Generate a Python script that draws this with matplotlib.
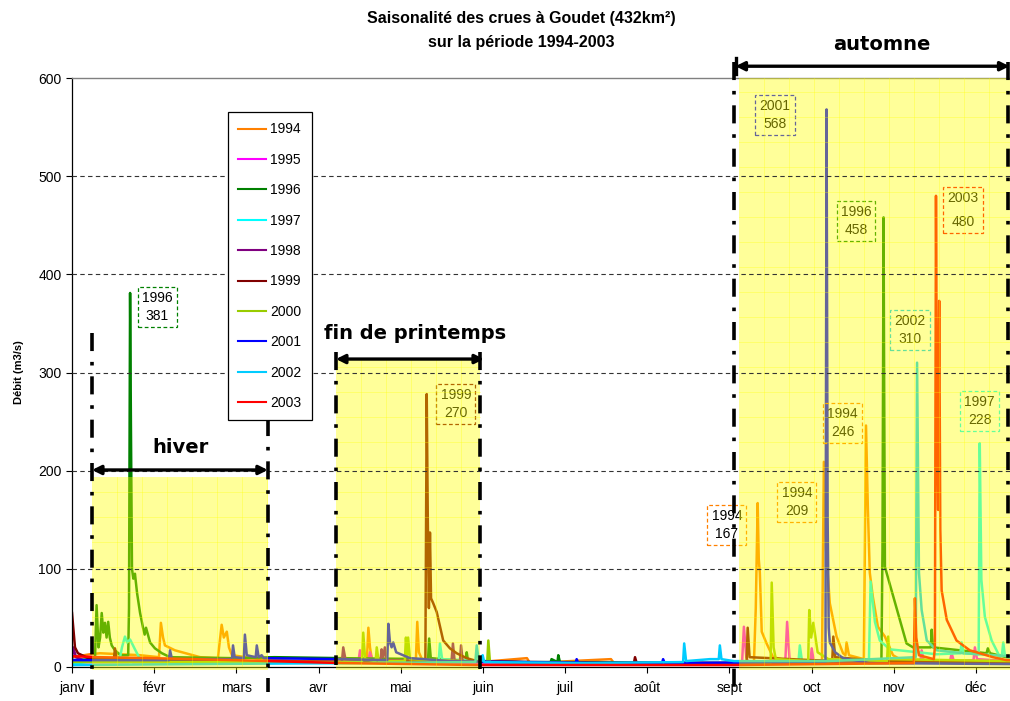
import matplotlib
matplotlib.use("Agg")
import matplotlib.pyplot as plt
from matplotlib.patches import Rectangle
import numpy as np

plt.rcParams['font.family'] = ['Liberation Sans', 'DejaVu Sans']

# ---------------- data ----------------
years = ['1994', '1995', '1996', '1997', '1998', '1999', '2000', '2001', '2002', '2003']
colors = ['#ff8000', '#ff00ff', '#008000', '#00ffff', '#800080', '#800000',
          '#99cc00', '#0000ff', '#00ccff', '#ff0000']
months = ['janv', 'févr', 'mars', 'avr', 'mai', 'juin', 'juil', 'août', 'sept', 'oct', 'nov', 'déc']

d1994 = [0, 6.7, 10.4, 25.2, 32.2, 32.9, 33.7, 34.4, 38.1, 47.4, 54.0, 55.4, 56.2, 57.3, 58.1, 59.2,
         69.6, 84.4, 106.6, 109.2, 109.7, 110.3, 111.0, 127.3, 127.8, 128.4, 129.5, 151.0, 168.4, 169.5,
         199.5, 200.6, 232.4, 252.4, 253.1, 253.8, 254.2, 254.6, 255.3, 257.1, 259.5, 265.7, 277.6, 278.3,
         279.1, 280.5, 283.0, 285.4, 286.3, 286.7, 287.6, 293.1, 293.9, 294.6, 295.3, 296.4, 298.3, 300.9,
         303.9, 306.4, 324.9, 347]
q1994 = [10, 13, 14, 12, 10, 45, 30, 22, 17, 10, 9, 43, 30, 36, 20, 12,
         8, 6, 6, 10, 40, 20, 8, 8, 46, 15, 8, 5, 9, 4,
         8, 4, 3, 3, 60, 167, 110, 96, 36, 24, 10, 6, 6, 209,
         120, 65, 31, 14, 12, 25, 12, 8, 246, 160, 96, 72, 41, 31,
         12, 8, 6, 5]

d1995 = [0, 21, 21.5, 22.5, 60, 106, 106.6, 107.5, 109.8, 110.3, 111.3, 150, 200, 248, 248.7, 249.6,
         250.5, 264, 264.7, 265.6, 266.5, 273.3, 273.8, 274.6, 314, 314.5, 315.3, 325, 325.6, 326.4,
         333.7, 334.2, 335, 347]
q1995 = [5, 5, 9, 5, 5, 5, 17, 8, 8, 15, 6, 4, 3, 3, 41, 10,
         4, 4, 46, 8, 4, 4, 19, 5, 5, 17, 6, 6, 14, 6,
         7, 20, 8, 6]

d1996 = [0, 8.5, 9.1, 9.8, 10.4, 11.0, 11.6, 12.2, 12.8, 13.4, 14.0, 14.7, 15.9, 18, 20.8, 21.1,
         21.5, 21.8, 22.2, 22.7, 23.3, 24.1, 25.2, 26.3, 26.9, 27.4, 28.9, 30.7, 33.3, 36.3, 60, 75,
         100, 131.8, 132.2, 132.8, 145.7, 146.1, 146.6, 170, 177.2, 177.5, 179.7, 180, 180.6, 240,
         299.6, 300.0, 300.4, 300.6, 300.9, 308.9, 311.3, 317.9, 318.2, 318.7, 328.7, 338.5, 339.0,
         339.8, 345.9, 347]
q1996 = [7, 8, 63, 20, 30, 55, 35, 45, 30, 46, 30, 22, 17, 12, 12, 60,
         381, 250, 100, 90, 95, 75, 55, 40, 33, 40, 25, 19, 14, 10, 9, 10,
         9, 8, 29, 9, 6, 15, 6, 5, 5, 8, 5, 12, 5, 4,
         6, 120, 458, 300, 102, 24, 20, 20, 38, 20, 17, 14, 19,
         14, 10, 10]

d1997 = [0, 17.8, 18.5, 19.6, 20.4, 21.5, 23.3, 25.2, 40, 100, 135.7, 136.2, 137, 180, 240, 268.9,
         269.4, 270.2, 295, 295.6, 297.2, 299, 302.7, 320, 328.8, 329.3, 330, 335.6, 336.0, 336.6,
         337.9, 340.4, 343.5, 344.2, 344.7, 345.3, 347]
q1997 = [3, 10, 20, 31, 25, 28, 18, 8, 5, 4, 5, 24, 8, 3, 4, 5,
         22, 6, 8, 87, 46, 27, 18, 13, 14, 25, 14, 13, 228, 89,
         51, 27, 10, 12, 25, 12, 10]

d1998 = [0, 0.4, 1.5, 5, 60, 99.9, 100.4, 101.2, 114.2, 114.6, 115.2, 115.8, 116.5, 140.5, 141.0,
         141.6, 143.6, 144.0, 144.6, 200, 250, 300, 347]
q1998 = [8, 20, 10, 6, 5, 5, 20, 8, 6, 18, 10, 20, 7, 6, 24,
         7, 6, 22, 6, 4, 4, 5, 5]

d1999 = [0, 1.1, 2.2, 6, 15.5, 15.9, 16.5, 50, 100, 130.8, 131.3, 131.7, 132.1, 132.5, 132.9, 133.7,
         135.0, 137.4, 139.9, 142.4, 146.1, 149.9, 180, 208, 208.4, 209, 249.7, 250.1, 250.8, 281.4,
         281.8, 282.5, 300, 347]
q1999 = [55, 20, 14, 9, 8, 19, 8, 6, 5, 6, 278, 150, 60, 137, 70, 65,
         56, 27, 19, 14, 9, 6, 4, 4, 10, 4, 4, 40, 10, 6,
         31, 10, 6, 5]

d2000 = [0, 60, 107.3, 107.8, 108.5, 112.4, 112.8, 113.5, 123.2, 123.6, 124.0, 124.4, 125.1, 153.7,
         154.1, 154.7, 200, 258.6, 259.0, 259.7, 260.5, 272.5, 272.9, 273.6, 274.4, 276, 280, 301.7,
         302.1, 302.8, 347]
q2000 = [5, 5, 5, 35, 8, 6, 20, 6, 6, 30, 12, 30, 8, 5,
         27, 5, 3, 4, 86, 20, 8, 6, 58, 30, 45, 15, 8, 6,
         31, 8, 6]

d2001 = [0, 20, 35.9, 36.3, 37, 59.2, 59.6, 60.2, 63.6, 64.0, 64.7, 68.0, 68.4, 69.1, 70.2, 71, 100,
         116.7, 117.1, 117.7, 118.3, 118.9, 120, 125.1, 140, 186.4, 186.8, 187.4, 218.4, 218.8, 219.4,
         278.9, 279.3, 279.7, 280.1, 280.5, 282.5, 285.4, 295, 347]
q2001 = [7, 7, 7, 17, 8, 8, 22, 10, 9, 33, 12, 10, 22, 10, 12, 9, 8,
         7, 44, 25, 20, 25, 15, 9, 6, 4, 8, 4, 4, 8, 4,
         5, 568, 150, 40, 25, 15, 9, 4, 3]

d2002 = [0, 50, 100, 149.3, 149.8, 150.5, 151.6, 152.0, 152.6, 190, 226.2, 226.6, 227.3, 236.1,
         239.4, 239.8, 240.4, 245, 280, 312.3, 312.8, 313.5, 314.5, 316.4, 320.1, 330, 347]
q2002 = [2, 3, 4, 5, 22, 8, 6, 12, 5, 4, 5, 24, 6, 8,
         8, 22, 8, 6, 6, 10, 310, 96, 58, 27, 17, 14, 11]

d2003 = [0, 10, 30, 60, 100, 150, 200, 245, 280, 311.6, 312.0, 312.5, 313.5, 319.0, 319.4, 319.8,
         320.2, 320.6, 321.0, 321.4, 321.9, 323.8, 327.4, 332.3, 340.9, 345.9, 347]
q2003 = [11, 10, 9, 7, 4, 2, 2, 2, 3, 4, 70, 30, 12, 8, 20, 480,
         240, 160, 373, 140, 78, 48, 27, 17, 10, 7, 7]

days = [d1994, d1995, d1996, d1997, d1998, d1999, d2000, d2001, d2002, d2003]
flows = [q1994, q1995, q1996, q1997, q1998, q1999, q2000, q2001, q2002, q2003]

# peak labels: (year, value, x-day, y-position)
lab_year = ['1996', '1999', '2001', '1996', '2003', '2002', '1994', '1994', '1994', '1997']
lab_val = ['381', '270', '568', '458', '480', '310', '246', '209', '167', '228']
lab_x = [31.5, 142.1, 260.2, 290.2, 329.8, 310.1, 285.3, 268.3, 242.4, 336.0]
lab_y = [366.7, 267.9, 562.3, 454.3, 465.5, 343.3, 248.5, 168.1, 144.6, 260.8]

# seasons
seasons = ['hiver', 'fin de printemps', 'automne']
season_x0 = [7.4, 97.7, 246.9]
season_x1 = [72.5, 151.0, 347.2]
season_h = [194, 313, 600]

# ---------------- figure ----------------
fig = plt.figure(figsize=(10.10, 7.01), dpi=100)
ax = fig.add_axes([72 / 1010, 1 - 667 / 701, 1 - 72 / 1010, (667 - 78) / 701])

XMAX = 347.2
ax.set_xlim(0, XMAX)
ax.set_ylim(0, 600)

for yr, c, d, q in zip(years, colors, days, flows):
    ax.plot(d, q, color=c, lw=1.8, label=yr, zorder=2, solid_joinstyle='round')

# grid
for v in range(100, 600, 100):
    ax.axhline(v, color='#333333', lw=0.8, linestyle=(0, (4, 3)), zorder=5.5)

# labels
ycol = {y: c for y, c in zip(years, colors)}
for i, (yr, vv, lx, ly) in enumerate(zip(lab_year, lab_val, lab_x, lab_y)):
    ls = 1.9 if yr == '2003' else 1.35
    ax.text(lx, ly, yr + '\n' + vv, ha='center', va='center', fontsize=10, color='black',
            linespacing=ls, zorder=3,
            bbox=dict(boxstyle='square,pad=0.3', facecolor='none', edgecolor=ycol[yr],
                      lw=0.9, linestyle=(0, (3, 2))))

# yellow overlays with texture
dxg = 25 * 365 / 12 / 82.2
dyg = 25 / (589 / 600)
for x0, x1, h in zip(season_x0, season_x1, season_h):
    ax.add_patch(Rectangle((x0, -3), x1 - x0, h + 3, facecolor='#ffff00', alpha=0.4,
                           lw=0, zorder=5, clip_on=False))
    for gx in np.arange(x0 + dxg, x1, dxg):
        ax.plot([gx, gx], [-3, h], color='#ffff00', lw=0.6, alpha=0.35, zorder=5.1)
    for gy in np.arange(dyg, h, dyg):
        ax.plot([x0, x1], [gy, gy], color='#ffff00', lw=0.6, alpha=0.35, zorder=5.1, clip_on=False)

# dash-dot boundaries
dd = dict(color='black', lw=2.6, linestyle=(0, (5, 3, 1, 3)), zorder=7, clip_on=False,
          dash_capstyle='butt')
ax.plot([7.4, 7.4], [340, -28.5], **dd)
ax.plot([72.5, 72.5], [254, -25], **dd)
ax.plot([97.7, 97.7], [321, 2], **dd)
ax.plot([151.0, 151.0], [321, -2], **dd)
ax.plot([245.1, 245.1], [616, -28.5], **dd)
ax.plot([346.6, 346.6], [616, 0], **dd)

# arrows
ap = dict(arrowstyle='<|-|>', lw=2.4, color='black', mutation_scale=13, shrinkA=0, shrinkB=0)
ax.annotate('', xy=(72.5, 200.7), xytext=(7.4, 200.7), arrowprops=ap, zorder=8,
            annotation_clip=False)
ax.annotate('', xy=(152.5, 313.7), xytext=(97.7, 313.7), arrowprops=ap, zorder=8,
            annotation_clip=False)
ax.annotate('', xy=(347.0, 612), xytext=(245.6, 612), arrowprops=ap,
            zorder=8, annotation_clip=False)
ax.plot([245.6, 245.6], [604, 620], color='black', lw=2.4, clip_on=False, zorder=8)

tk = dict(fontsize=14, fontweight='bold', ha='center', va='center', zorder=8,
          family=['DejaVu Sans'])
ax.text(40.0, 224, seasons[0], **tk)
ax.text(126.9, 340.2, seasons[1], **tk)
ax.text(299.8, 634.6, seasons[2], clip_on=False, **tk)

# axes styling
ax.set_yticks(range(0, 601, 100))
ax.set_xticks([i * 365 / 12 for i in range(12)])
ax.set_xticklabels(months)
ax.tick_params(axis='both', direction='out', length=4, width=0.8, labelsize=10, colors='black')
ax.tick_params(axis='x', pad=6)
ax.spines['right'].set_visible(False)
ax.spines['top'].set_color('#808080')
ax.spines['top'].set_linewidth(1.0)
ax.spines['left'].set_linewidth(0.9)
ax.spines['bottom'].set_linewidth(0.9)
ax.set_ylabel('Débit (m3/s)', fontsize=8, fontweight='bold', labelpad=10)

# legend
leg = fig.legend(loc='upper left', bbox_to_anchor=(228 / 1010, 1 - 112 / 701), fontsize=10,
                 frameon=True, fancybox=False, edgecolor='black', framealpha=1,
                 handlelength=2.0, handletextpad=0.3, labelspacing=1.18, borderpad=0.75,
                 borderaxespad=0)
leg.get_frame().set_linewidth(0.9)
for h in leg.get_lines():
    h.set_linewidth(1.5)
leg.set_zorder(20)

fig.text(521 / 1010, 1 - 18 / 701, 'Saisonalité des crues à Goudet (432km²)', ha='center',
         va='center', fontsize=11.5, fontweight='bold')
fig.text(521 / 1010, 1 - 42 / 701, 'sur la période 1994-2003', ha='center', va='center',
         fontsize=11.5, fontweight='bold')

fig.savefig('out.png', dpi=100)
